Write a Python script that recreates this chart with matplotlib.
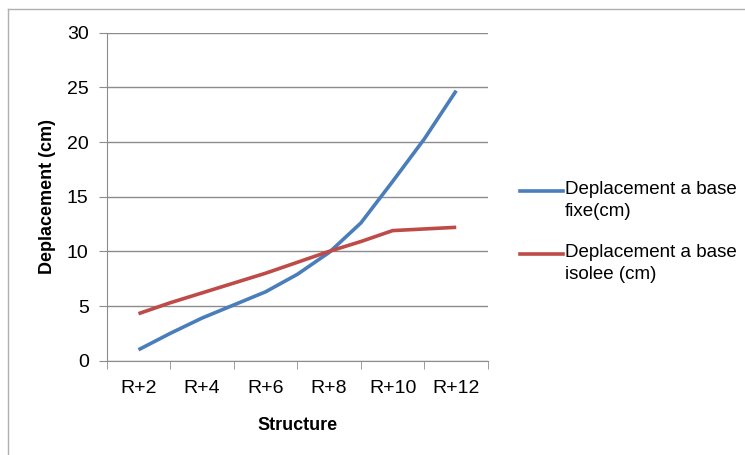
import matplotlib
matplotlib.use("Agg")
import matplotlib.pyplot as plt
from matplotlib.lines import Line2D

plt.rcParams['font.family'] = ['Liberation Sans', 'DejaVu Sans']

# one point per storey, labels shown every other storey
storeys = ["R+2", "R+3", "R+4", "R+5", "R+6", "R+7", "R+8", "R+9", "R+10", "R+11", "R+12"]
fixe = [1.0, 2.5, 3.9, 5.1, 6.3, 7.9, 9.9, 12.6, 16.4, 20.3, 24.7]
isolee = [4.3, 5.3, 6.2, 7.1, 8.0, 9.0, 10.0, 10.9, 11.9, 12.05, 12.2]
names = ["Deplacement a base\nfixe(cm)", "Deplacement a base\nisolee (cm)"]
colors = ["#4a7ebb", "#be4b48"]

W, H = 745, 455
fig = plt.figure(figsize=(W / 100, H / 100), dpi=100)
ax = fig.add_axes([106.7 / W, 1 - 360.7 / H, (488 - 106.7) / W, (360.7 - 32.7) / H])

x = list(range(len(storeys)))
for ys, c in zip([fixe, isolee], colors):
    ax.plot(x, ys, color=c, linewidth=2.6, solid_capstyle='butt', zorder=3)

ax.set_xlim(-1, len(storeys))
ax.set_ylim(0, 30)
ax.set_yticks(range(0, 31, 5))
ax.yaxis.grid(True, color="#8c8c8c", linewidth=1)
ax.set_axisbelow(True)

ax.set_xticks(x[::2])
ax.set_xticklabels(storeys[::2])
ax.set_xticks([i - 1 for i in range(0, len(storeys) + 2, 2)], minor=True)
ax.tick_params(axis='x', which='major', length=0, pad=14, labelsize=14)
ax.tick_params(axis='x', which='minor', length=6, color="#8c8c8c", direction='out')
ax.tick_params(axis='y', length=6, color="#8c8c8c", labelsize=14, pad=7)

for s in ["top", "right"]:
    ax.spines[s].set_visible(False)
for s in ["left", "bottom"]:
    ax.spines[s].set_color("#8c8c8c")

ax.set_xlabel("Structure", fontsize=13, fontweight='bold', labelpad=14)
ax.set_ylabel("Deplacement (cm)", fontsize=13, fontweight='bold', labelpad=8)

# legend drawn by hand so the line sits on the first text row
for i, (n, c) in enumerate(zip(names, colors)):
    yy = 1 - (191 + i * 63) / H
    fig.add_artist(Line2D([520 / W, 563 / W], [yy, yy], color=c, linewidth=2.6,
                          transform=fig.transFigure))
    fig.text(565 / W, yy + 10 / H, n, fontsize=13.5, va='top', ha='left',
             linespacing=1.35, transform=fig.transFigure)

# outer chart border
fig.add_artist(Line2D([8 / W, 8 / W], [0, 1 - 9 / H], color="#b0b0b0", linewidth=1))
fig.add_artist(Line2D([8 / W, 1], [1 - 9 / H, 1 - 9 / H], color="#b0b0b0", linewidth=1))

fig.savefig("out.png", dpi=100)
